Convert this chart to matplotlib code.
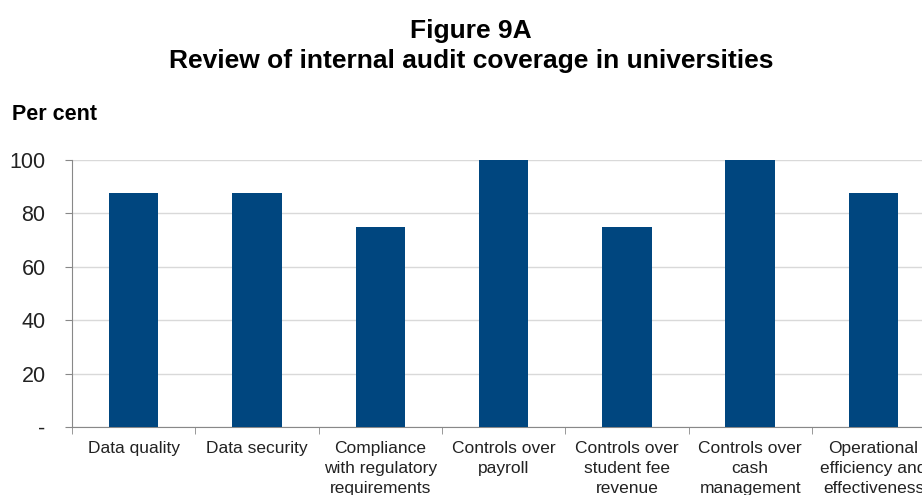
import matplotlib.pyplot as plt
import numpy as np

plt.rcParams['font.family'] = ['Liberation Sans', 'DejaVu Sans']

categories = ["Data quality", "Data security", "Compliance\nwith regulatory\nrequirements",
              "Controls over\npayroll", "Controls over\nstudent fee\nrevenue",
              "Controls over\ncash\nmanagement", "Operational\nefficiency and\neffectiveness"]
values = [87.5, 87.5, 75, 100, 75, 100, 87.5]
yticks = [0, 20, 40, 60, 80, 100]
ytick_labels = ["-", "20", "40", "60", "80", "100"]

fig = plt.figure(figsize=(9.22, 4.95), dpi=100)
ax = fig.add_axes([72/922, 1-427/495, 7*123.3/922, 267/495])

x = np.arange(len(categories))
ax.bar(x, values, width=0.4, color='#00467f', zorder=3)

ax.set_xlim(-0.5, len(categories)-0.5)
ax.set_ylim(0, 100)
ax.set_yticks(yticks)
ax.set_yticklabels(ytick_labels, fontsize=15.5, color='#222222')
ax.set_xticks(x)
ax.set_xticklabels(categories, fontsize=12.5, color='#222222', linespacing=1.42)
ax.set_xticks(np.arange(len(categories)+1)-0.5, minor=True)
ax.tick_params(axis='x', which='major', length=0, pad=10)
ax.tick_params(axis='x', which='minor', length=5, color='#888888', direction='out')
ax.tick_params(axis='y', length=5, color='#888888', pad=14)
for lab in ax.get_yticklabels():
    lab.set_horizontalalignment('right')

ax.grid(axis='y', color='#d9d9d9', linewidth=1, zorder=0)
for s in ['top', 'right']:
    ax.spines[s].set_visible(False)
ax.spines['left'].set_color('#888888')
ax.spines['bottom'].set_color('#888888')

fig.text(0.511, 1-31/495, "Figure 9A", ha='center', va='center', fontsize=19, fontweight='bold')
fig.text(0.511, 1-61/495, "Review of internal audit coverage in universities", ha='center', va='center',
         fontsize=19, fontweight='bold')
fig.text(12/922, 1-115/495, "Per cent", ha='left', va='center', fontsize=15.5, fontweight='bold')

fig.savefig('out.png', dpi=100)
